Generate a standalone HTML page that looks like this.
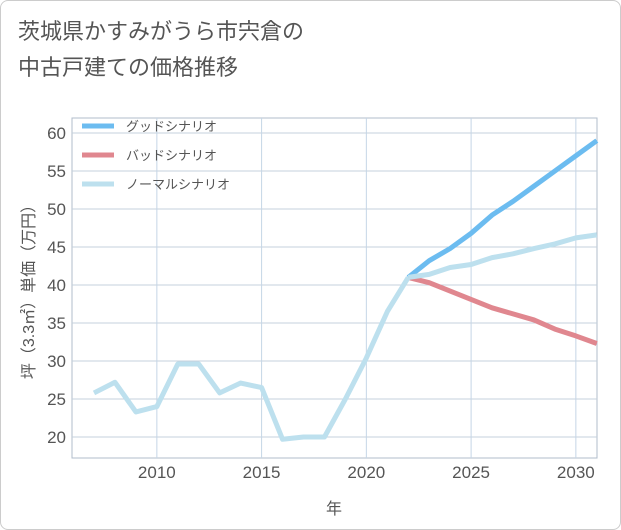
<!DOCTYPE html>
<html><head><meta charset="utf-8"><style>
body{margin:0;background:#fff;}
.frame{position:absolute;left:0;top:0;width:619px;height:528px;border:1px solid #ccc;border-radius:8px;background:#fff;}
.title{position:absolute;left:18px;top:14px;font:22px "Liberation Sans","Noto Sans CJK JP",sans-serif;color:#555;line-height:36px;}
svg text{font-family:"Liberation Sans","Noto Sans CJK JP",sans-serif;}
</style></head><body>
<div class="frame"></div>
<div class="title">茨城県かすみがうら市宍倉の<br>中古戸建ての価格推移</div>
<svg id="c" width="621" height="530" style="position:absolute;left:0;top:0"></svg>
<script>
const years=[2007,2008,2009,2010,2011,2012,2013,2014,2015,2016,2017,2018,2019,2020,2021,2022];
const hist=[25.8,27.2,23.3,24.0,29.6,29.6,25.8,27.1,26.5,19.7,20.0,20.0,25.0,30.4,36.5,41.0];
const futYears=[2022,2023,2024,2025,2026,2027,2028,2029,2030,2031];
const good=[41.0,43.2,44.8,46.8,49.2,51.0,53.0,55.0,57.0,59.0];
const bad=[41.0,40.3,39.2,38.1,37.0,36.2,35.4,34.2,33.3,32.3];
const normal=[41.0,41.4,42.3,42.7,43.6,44.1,44.8,45.4,46.2,46.6];
const xTicks=[2010,2015,2020,2025,2030];
const yTicks=[20,25,30,35,40,45,50,55,60];
const L=72,R=597,T=118,B=458;
const x=v=>94+(v-2007)*20.95;
const y=v=>437-(v-20)*7.6;
const s=document.getElementById('c');const NS='http://www.w3.org/2000/svg';
function mk(t,a,p){const e=document.createElementNS(NS,t);for(const k in a)e.setAttribute(k,a[k]);(p||s).appendChild(e);return e;}
const bg=mk('rect',{x:L,y:T,width:R-L,height:B-T,fill:'#fff',stroke:'#b0bccb'});


yTicks.forEach(v=>{
 const g=mk('line',{x1:L,x2:R,y1:y(v),y2:y(v),stroke:'#c5d0dc'});
 
 
 const t=mk('text',{x:L-6,y:y(v)+6,'text-anchor':'end','font-size':17,fill:'#555'});t.textContent=v;
 
 
});
xTicks.forEach(v=>{
 const g=mk('line',{x1:x(v),x2:x(v),y1:T,y2:B,stroke:'#c5d6e6'});
 
 
 const t=mk('text',{x:x(v),y:B+20,'text-anchor':'middle','font-size':17,fill:'#555'});t.textContent=v;
 
 
});
const xt=mk('text',{x:334,y:514,'text-anchor':'middle','font-size':16,fill:'#555'});xt.textContent='年';


const yt=mk('text',{x:0,y:0,transform:'translate(34,288) rotate(-90)','text-anchor':'middle','font-size':16,fill:'#555'});yt.textContent='坪（3.3㎡）単価（万円）';


function line(xs,vs,col,name){
 const p=mk('polyline',{points:xs.map((a,i)=>x(a)+','+y(vs[i])).join(' '),fill:'none',stroke:col,'stroke-width':5,'stroke-linejoin':'round'});
 
 
}
line(futYears,bad,'#e0878f','bad-scenario-line');
line(futYears,good,'#6cbcf0','good-scenario-line');
line(futYears,normal,'#bde0ee','normal-scenario-line');
line(years,hist,'#bde0ee','historical-line');
const leg=[['グッドシナリオ','#6cbcf0'],['バッドシナリオ','#e0878f'],['ノーマルシナリオ','#bde0ee']];
leg.forEach((d,i)=>{
 const yy=126+i*29;
 const l=mk('line',{x1:82,x2:114,y1:yy,y2:yy,stroke:d[1],'stroke-width':5});
 
 
 const t=mk('text',{x:126,y:yy+5,'font-size':13,fill:'#555'});t.textContent=d[0];
 
 
});
</script>
</body></html>
